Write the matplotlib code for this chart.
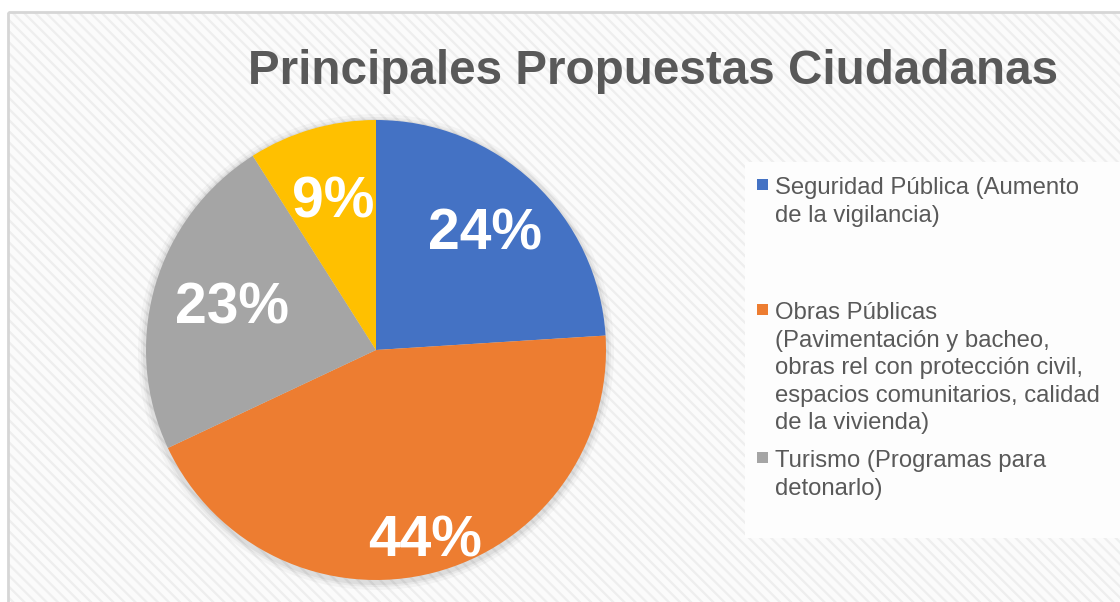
import numpy as np
import matplotlib
matplotlib.use("Agg")
import matplotlib.pyplot as plt
from matplotlib.patches import Rectangle, Circle

title = "Principales Propuestas Ciudadanas"
categories = [
    "Seguridad Pública (Aumento\nde la vigilancia)",
    "Obras Públicas\n(Pavimentación y bacheo,\nobras rel con protección civil,\nespacios comunitarios, calidad\nde la vivienda)",
    "Turismo (Programas para\ndetonarlo)",
    "Otros",
]
values = [24, 44, 23, 9]
colors = ["#4472C4", "#ED7D31", "#A5A5A5", "#FFC000"]
label_dist = [0.69, 0.86, 0.65, 0.67]
legend_tops = [188, 313, 461]  # pixel y of first line of each legend entry

W, H = 1120, 602
plt.rcParams['font.family'] = ['Liberation Sans', 'DejaVu Sans']
plt.rcParams['hatch.linewidth'] = 1.6
fig = plt.figure(figsize=(W / 100, H / 100), dpi=100)
fig.patch.set_facecolor("white")

# background
bg = fig.add_axes([0, 0, 1, 1])
bg.set_xlim(0, W)
bg.set_ylim(H, 0)
bg.axis("off")
bg.add_patch(Rectangle((8, 12), W, H, facecolor="#fbfbfb", edgecolor="#eeeeee",
                       linewidth=0, hatch="\\\\\\", zorder=0))
bg.add_patch(Rectangle((8, 12), W, H, facecolor="none", edgecolor="#d6d6d6",
                       linewidth=2, zorder=0.5))
bg.add_patch(Rectangle((745, 162), 400, 376, facecolor="#fdfdfd", edgecolor="none", zorder=1))

# legend (manual, Excel-like spacing)
for i, top in enumerate(legend_tops):
    bg.add_patch(Rectangle((757, top - 9), 11, 11, facecolor=colors[i], edgecolor="none", zorder=3))
    bg.text(775, top - 11, categories[i], fontsize=17.2, color="#595959", va="top", ha="left",
            linespacing=1.33, zorder=3)

bg.text(653, 72, title, fontsize=34.3, fontweight="bold", color="#595959",
        ha="center", va="center", zorder=3)

# pie
cx, cy, r = 376, 350, 230
# soft shadow
for k, a in [(8, 0.03), (5, 0.04), (3, 0.05)]:
    bg.add_patch(Circle((cx, cy + 2), r + k, facecolor="#000000", alpha=a,
                        edgecolor="none", zorder=1.5))
ax = fig.add_axes([(cx - r) / W, (H - cy - r) / H, 2 * r / W, 2 * r / H])
ax.patch.set_alpha(0)
wedges, _ = ax.pie(values, colors=colors, startangle=90, counterclock=False,
                   wedgeprops=dict(linewidth=0))
ax.set_xlim(-1, 1)
ax.set_ylim(-1, 1)
ax.set_aspect("equal")
total = sum(values)
for w, v, d in zip(wedges, values, label_dist):
    ang = np.deg2rad((w.theta1 + w.theta2) / 2)
    ax.text(d * np.cos(ang), d * np.sin(ang), f"{round(100 * v / total)}%",
            ha="center", va="center", fontsize=41, fontweight="bold", color="white")

fig.savefig("out.png", dpi=100, facecolor="white")
